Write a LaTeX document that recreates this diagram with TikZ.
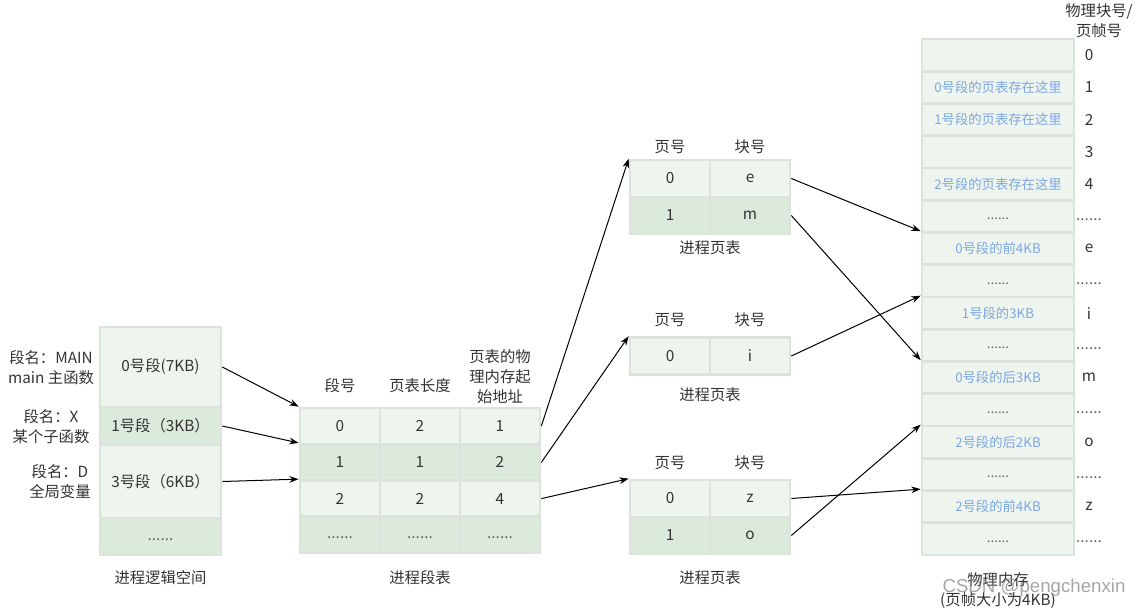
\documentclass[tikz,border=0pt]{standalone}
\usepackage{fontspec}
\setmainfont{Noto Sans CJK SC}
\newfontfamily\wmfont{Liberation Sans}
\usetikzlibrary{arrows.meta}
\definecolor{cellA}{HTML}{EEF5EE}
\definecolor{cellB}{HTML}{DCEADC}
\definecolor{cellline}{HTML}{DCE3DC}
\definecolor{memtext}{HTML}{7EA6E0}
\definecolor{txt}{HTML}{333333}
\newcommand{\moredots}{{\color{txt!75}\strut......}}
\tikzset{
  cell/.style={draw=cellline, line width=2pt, inner sep=0pt},
  tcell/.style={cell, minimum width=60pt, minimum height=27.2pt},
  pcell/.style={cell, minimum width=60pt, minimum height=27.75pt},
  mcell/.style={cell, fill=cellA, minimum width=114pt, minimum height=24.19pt, text=memtext, font=\fontsize{10}{12}\selectfont},
  link/.style={->, line width=0.75pt, black},
}
\begin{document}
\begin{tikzpicture}[x=0.75pt, y=-0.75pt, every node/.style={font=\fontsize{11.5}{15}\selectfont, text=txt}, >={Stealth[length=7pt,width=5pt]}]
  \useasboundingbox (0,0) rectangle (1140,608);
  % process logical space
  \foreach \n/\y/\h/\c/\t in {seg0/367/60/cellA/{0号段(7KB)}, seg1/426/28.5/cellB/{1号段（3KB）}, seg3/481.5/54.75/cellA/{3号段（6KB）}, segx/536.5/27.75/cellB/{\moredots}}
    \node[cell, fill=\c, minimum width=90.75pt, minimum height=\h pt] (\n) at (160.5,\y) {\t};
  \node[align=center] (nmain) at (51,368) {段名：MAIN\\main 主函数};
  \node[align=center] (nx) at (51,427) {段名：X\\某个子函数};
  \node[align=center] (nd) at (60,482) {段名：D\\全局变量};
  \node (lspace) at (160.5,578) {进程逻辑空间};
  % segment table
  \foreach \r/\y/\c/\a/\b/\d in {0/426.1/cellA/0/2/1, 1/462.4/cellB/1/1/2, 2/498.6/cellA/2/2/4, 3/534.9/cellB/\moredots/\moredots/\moredots} {
    \node[tcell, fill=\c] (st\r0) at (340,\y) {\a};
    \node[tcell, fill=\c] (st\r1) at (420,\y) {\b};
    \node[tcell, fill=\c] (st\r2) at (500,\y) {\d};
  }
  \node (hseg) at (340,386) {段号};
  \node (hlen) at (420,386) {页表长度};
  \node[align=center] (hadr) at (500,377) {页表的物\\理内存起\\始地址};
  \node (stab) at (420,578) {进程段表};
  % page tables
  \foreach \p/\yh/\yl/\rows in {1/147/248/{0/178.5/cellA/0/e, 1/215.5/cellB/1/m}, 2/320/395/{0/356/cellA/0/i}, 3/463/578/{0/498.5/cellA/0/z, 1/535.5/cellB/1/o}} {
    \foreach \r/\y/\c/\a/\b in \rows {
      \node[pcell, fill=\c] (pt\p a\r) at (670,\y) {\a};
      \node[pcell, fill=\c] (pt\p b\r) at (750,\y) {\b};
    }
    \node (hpg\p) at (670,\yh) {页号};
    \node (hblk\p) at (750,\yh) {块号};
    \node (ptab\p) at (710,\yl) {进程页表};
  }
  % physical memory
  \foreach \i/\t/\k in {0//0, 1/0号段的页表存在这里/1, 2/1号段的页表存在这里/2, 3//3, 4/2号段的页表存在这里/4, 5/\moredots/\moredots, 6/0号段的前4KB/e, 7/\moredots/\moredots, 8/1号段的3KB/i, 9/\moredots/\moredots, 10/0号段的后3KB/m, 11/\moredots/\moredots, 12/2号段的后2KB/o, 13/\moredots/\moredots, 14/2号段的前4KB/z, 15/\moredots/\moredots} {
    \node[mcell] (mem\i) at (998,{55.1+32.25*\i}) {\t};
    \node (blk\i) at (1089,{55.1+32.25*\i}) {\k};
  }
  \node[align=center] (hmem) at (1099,21) {物理块号/\\页帧号};
  \node[align=center] (pmem) at (998,591) {物理内存\\(页帧大小为4KB)};
  \node[text=gray, text opacity=0.7, font=\wmfont\fontsize{14}{16}\selectfont] (wm) at (1034,588) {CSDN @pengchenxin};
  % connectors
  \draw[link] (seg0.east) -- (st00.north west);
  \draw[link] (seg1.east) -- (st10.north west);
  \draw[link] (seg3.east) -- (st20.north west);
  \draw[link] (st02.east) -- (pt1a0.north west);
  \draw[link] (st12.east) -- (pt2a0.north west);
  \draw[link] (st22.east) -- (pt3a0.north west);
  \draw[link] (pt1b0.east) -- (mem6.north west);
  \draw[link] (pt1b1.east) -- (mem10.north west);
  \draw[link] (pt2b0.east) -- (mem8.north west);
  \draw[link] (pt3b0.east) -- (mem14.north west);
  \draw[link] (pt3b1.east) -- (mem12.north west);
\end{tikzpicture}
\end{document}
